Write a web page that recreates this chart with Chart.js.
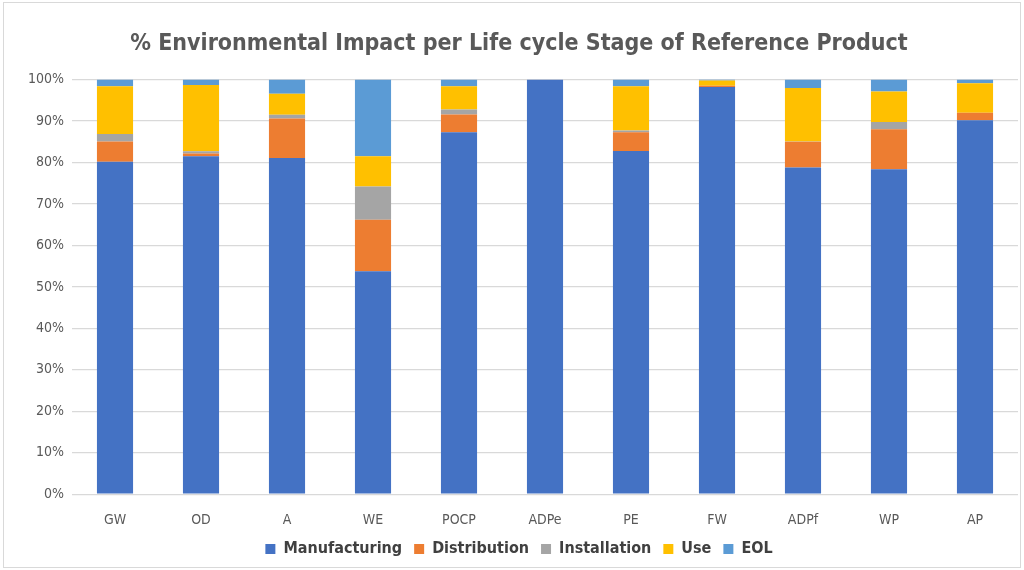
<!DOCTYPE html>
<html>
<head>
<meta charset="utf-8">
<script src="https://cdn.jsdelivr.net/npm/chart.js@4/dist/chart.umd.min.js"></script>
<style>
  html, body { margin: 0; padding: 0; background: #fff; }
  #wrap { position: relative; width: 1018px; height: 566px; margin: 2px 3px; border: 1px solid #d9d9d9; box-sizing: border-box; }
</style>
</head>
<body>
<div id="wrap"><canvas id="chart"></canvas></div>
<script>
const categories = ["GW", "OD", "A", "WE", "POCP", "ADPe", "PE", "FW", "ADPf", "WP", "AP"];
const manufacturing = [80.2, 81.5, 81.1, 53.8, 87.3, 100, 82.8, 98.2, 78.8, 78.4, 90.2];
const distribution = [4.9, 0.7, 9.5, 12.4, 4.3, 0, 4.5, 0.3, 6.2, 9.6, 1.8];
const installation = [1.8, 0.5, 0.9, 8.0, 1.2, 0, 0.4, 0, 0.1, 1.8, 0];
const use = [11.5, 16.0, 5.1, 7.3, 5.6, 0, 10.7, 1.3, 12.9, 7.3, 7.1];
const eol = [1.6, 1.3, 3.4, 18.5, 1.6, 0, 1.6, 0.2, 2.0, 2.9, 0.9];

const FONT = "'DejaVu Sans Condensed', 'Liberation Sans Narrow', 'DejaVu Sans', sans-serif";

const series = [
  { label: "Manufacturing", data: manufacturing, color: "#4472c4" },
  { label: "Distribution", data: distribution, color: "#ed7d31" },
  { label: "Installation", data: installation, color: "#a5a5a5" },
  { label: "Use", data: use, color: "#ffc000" },
  { label: "EOL", data: eol, color: "#5b9bd5" },
];

new Chart(document.getElementById("chart"), {
  type: "bar",
  data: {
    labels: categories,
    datasets: series.map((s) => ({
      label: s.label,
      data: s.data,
      backgroundColor: s.color,
      borderWidth: 0,
      categoryPercentage: 1,
      barPercentage: 0.42,
    })),
  },
  options: {
    responsive: true,
    maintainAspectRatio: false,
    animation: false,
    layout: { padding: { left: 16, right: 2, top: 17, bottom: 0 } },
    plugins: {
      title: {
        display: true,
        text: "% Environmental Impact per Life cycle Stage of Reference Product",
        color: "#595959",
        font: { family: FONT, size: 23, weight: "bold" },
        padding: { top: 10, bottom: 22 },
      },
      legend: {
        position: "bottom",
        labels: {
          color: "#404040",
          font: { family: FONT, size: 16, weight: "bold" },
          boxWidth: 10,
          boxHeight: 10,
          padding: 2,
          generateLabels: (chart) => {
            const items = Chart.defaults.plugins.legend.labels.generateLabels(chart);
            // extra room between entries without making the legend taller
            return items.map((it, i) =>
              i < items.length - 1 ? { ...it, text: it.text + "  " } : it,
            );
          },
        },
      },
      tooltip: { enabled: false },
    },
    scales: {
      x: {
        stacked: true,
        grid: { display: false },
        border: { display: false },
        ticks: { color: "#595959", font: { family: FONT, size: 14 }, padding: 10 },
      },
      y: {
        stacked: true,
        min: 0,
        max: 100,
        ticks: {
          stepSize: 10,
          color: "#595959",
          font: { family: FONT, size: 14 },
          padding: 8,
          callback: (v) => v + "%",
        },
        grid: { color: "#d9d9d9", lineWidth: 1.3, drawTicks: false },
        border: { display: false },
      },
    },
  },
});
</script>
</body>
</html>
